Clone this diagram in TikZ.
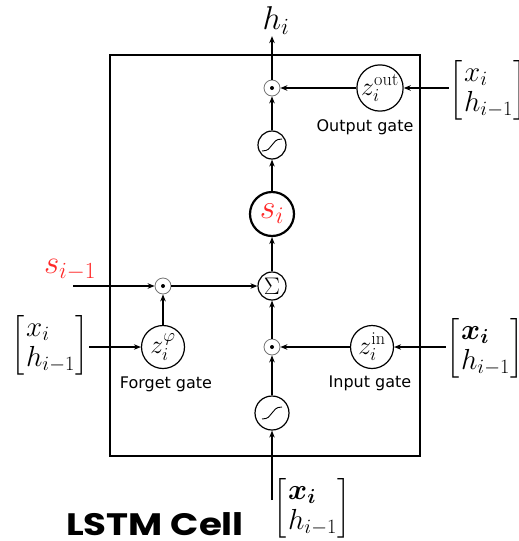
\RequirePackage{fix-cm}
\documentclass[tikz,border=0pt]{standalone}
\usepackage{amsmath}
\usepackage{fontspec}
\newfontfamily\labfont{DejaVu Sans}
\newfontfamily\titlefont{Poppins}
\usetikzlibrary{arrows.meta}
\definecolor{sred}{RGB}{255,40,40}
\newcommand{\xvec}[1]{\left[\begin{array}{@{\hspace{2pt}}l@{\hspace{1pt}}} #1\\ h_{i-1}\end{array}\right]}
\begin{document}
\begin{tikzpicture}[x=1pt,y=-1pt,
  arr/.style={line width=1.2pt,-{Stealth[length=7pt,width=5.5pt]}},
  gate/.style={circle,draw,line width=1.2pt,minimum size=43pt,inner sep=0pt,font=\fontsize{26}{30}\selectfont},
  prod/.style={circle,draw=black!55,line width=0.8pt,minimum size=16pt,inner sep=0pt,
    path picture={\fill (path picture bounding box.center) circle (2pt);}},
  sigm/.style={circle,draw,line width=1.2pt,minimum size=#1pt,inner sep=0pt,
    path picture={\draw[line width=0.9pt,shift={(path picture bounding box.center)},scale=#1/30]
      (-10,6) .. controls (2,6) and (-2,-6) .. (10,-6);}},
  vec/.style={inner sep=0pt,font=\fontsize{29}{30}\selectfont},
  lab/.style={font=\labfont\fontsize{16}{19}\selectfont,inner sep=0pt},
]
\useasboundingbox (0,0) rectangle (519,541);
\draw[line width=1.3pt] (110,55) rectangle (420,456);
% nodes
\node[font=\fontsize{33}{36}\selectfont,inner sep=1pt] (hi) at (276,21) {$h_i$};
\node[prod] (op) at (272,88) {};
\node[gate] (zout) at (380,88) {$z_i^{\mathrm{out}}$};
\node[lab] (outl) at (365,127) {Output gate};
\node[vec] (xo) at (488,90) {$\xvec{x_i}$};
\node[sigm=28] (sg1) at (272,145) {};
\node[gate,line width=2.2pt,minimum size=44pt,font=\fontsize{34}{38}\selectfont] (s) at (272,214) {$\color{sred}s_i$};
\node[circle,draw,line width=1.2pt,minimum size=28pt,inner sep=0pt,font=\fontsize{24}{26}\selectfont] (sum) at (272,286) {$\Sigma$};
\node[prod] (fp) at (163,286) {};
\node[font=\fontsize{33}{36}\selectfont,text=sred,inner sep=0pt] (sprev) at (70,270) {$s_{i-1}$};
\coordinate (sin) at (73,286);
\node[gate] (zf) at (163,347) {$z_i^{\varphi}$};
\node[lab] (fgl) at (166,384) {Forget gate};
\node[vec] (xf) at (50,345) {$\xvec{x_i}$};
\node[prod] (ip) at (272,347) {};
\node[gate] (zin) at (372,347) {$z_i^{\mathrm{in}}$};
\node[lab] (inl) at (370,383) {Input gate};
\node[vec] (xi) at (485,348) {$\xvec{\boldsymbol{x_i}}$};
\node[sigm=34] (sg2) at (272,413) {};
\node[vec] (xb) at (312,508) {$\xvec{\boldsymbol{x_i}}$};
\coordinate (bin) at (272,500);
\node[font=\titlefont\bfseries\fontsize{31}{34}\selectfont,inner sep=0pt,xscale=1.2] (title) at (155,524) {LSTM Cell};
% connectors
\draw[arr] (op) -- (hi.south -| op);
\draw[arr] (xo.west |- zout) -- (zout);
\draw[arr] (zout) -- (op);
\draw[arr] (sg1) -- (op);
\draw[arr] (s) -- (sg1);
\draw[arr] (sum) -- (s);
\draw[arr] (fp) -- (sum);
\draw[arr] (sin) -- (fp);
\draw[arr] (zf) -- (fp);
\draw[arr] (xf.east |- zf) -- (zf);
\draw[arr] (ip) -- (sum);
\draw[arr] (zin) -- (ip);
\draw[arr] (xi.west |- zin) -- (zin);
\draw[arr] (sg2) -- (ip);
\draw[arr] (bin) -- (sg2);
\end{tikzpicture}
\end{document}
